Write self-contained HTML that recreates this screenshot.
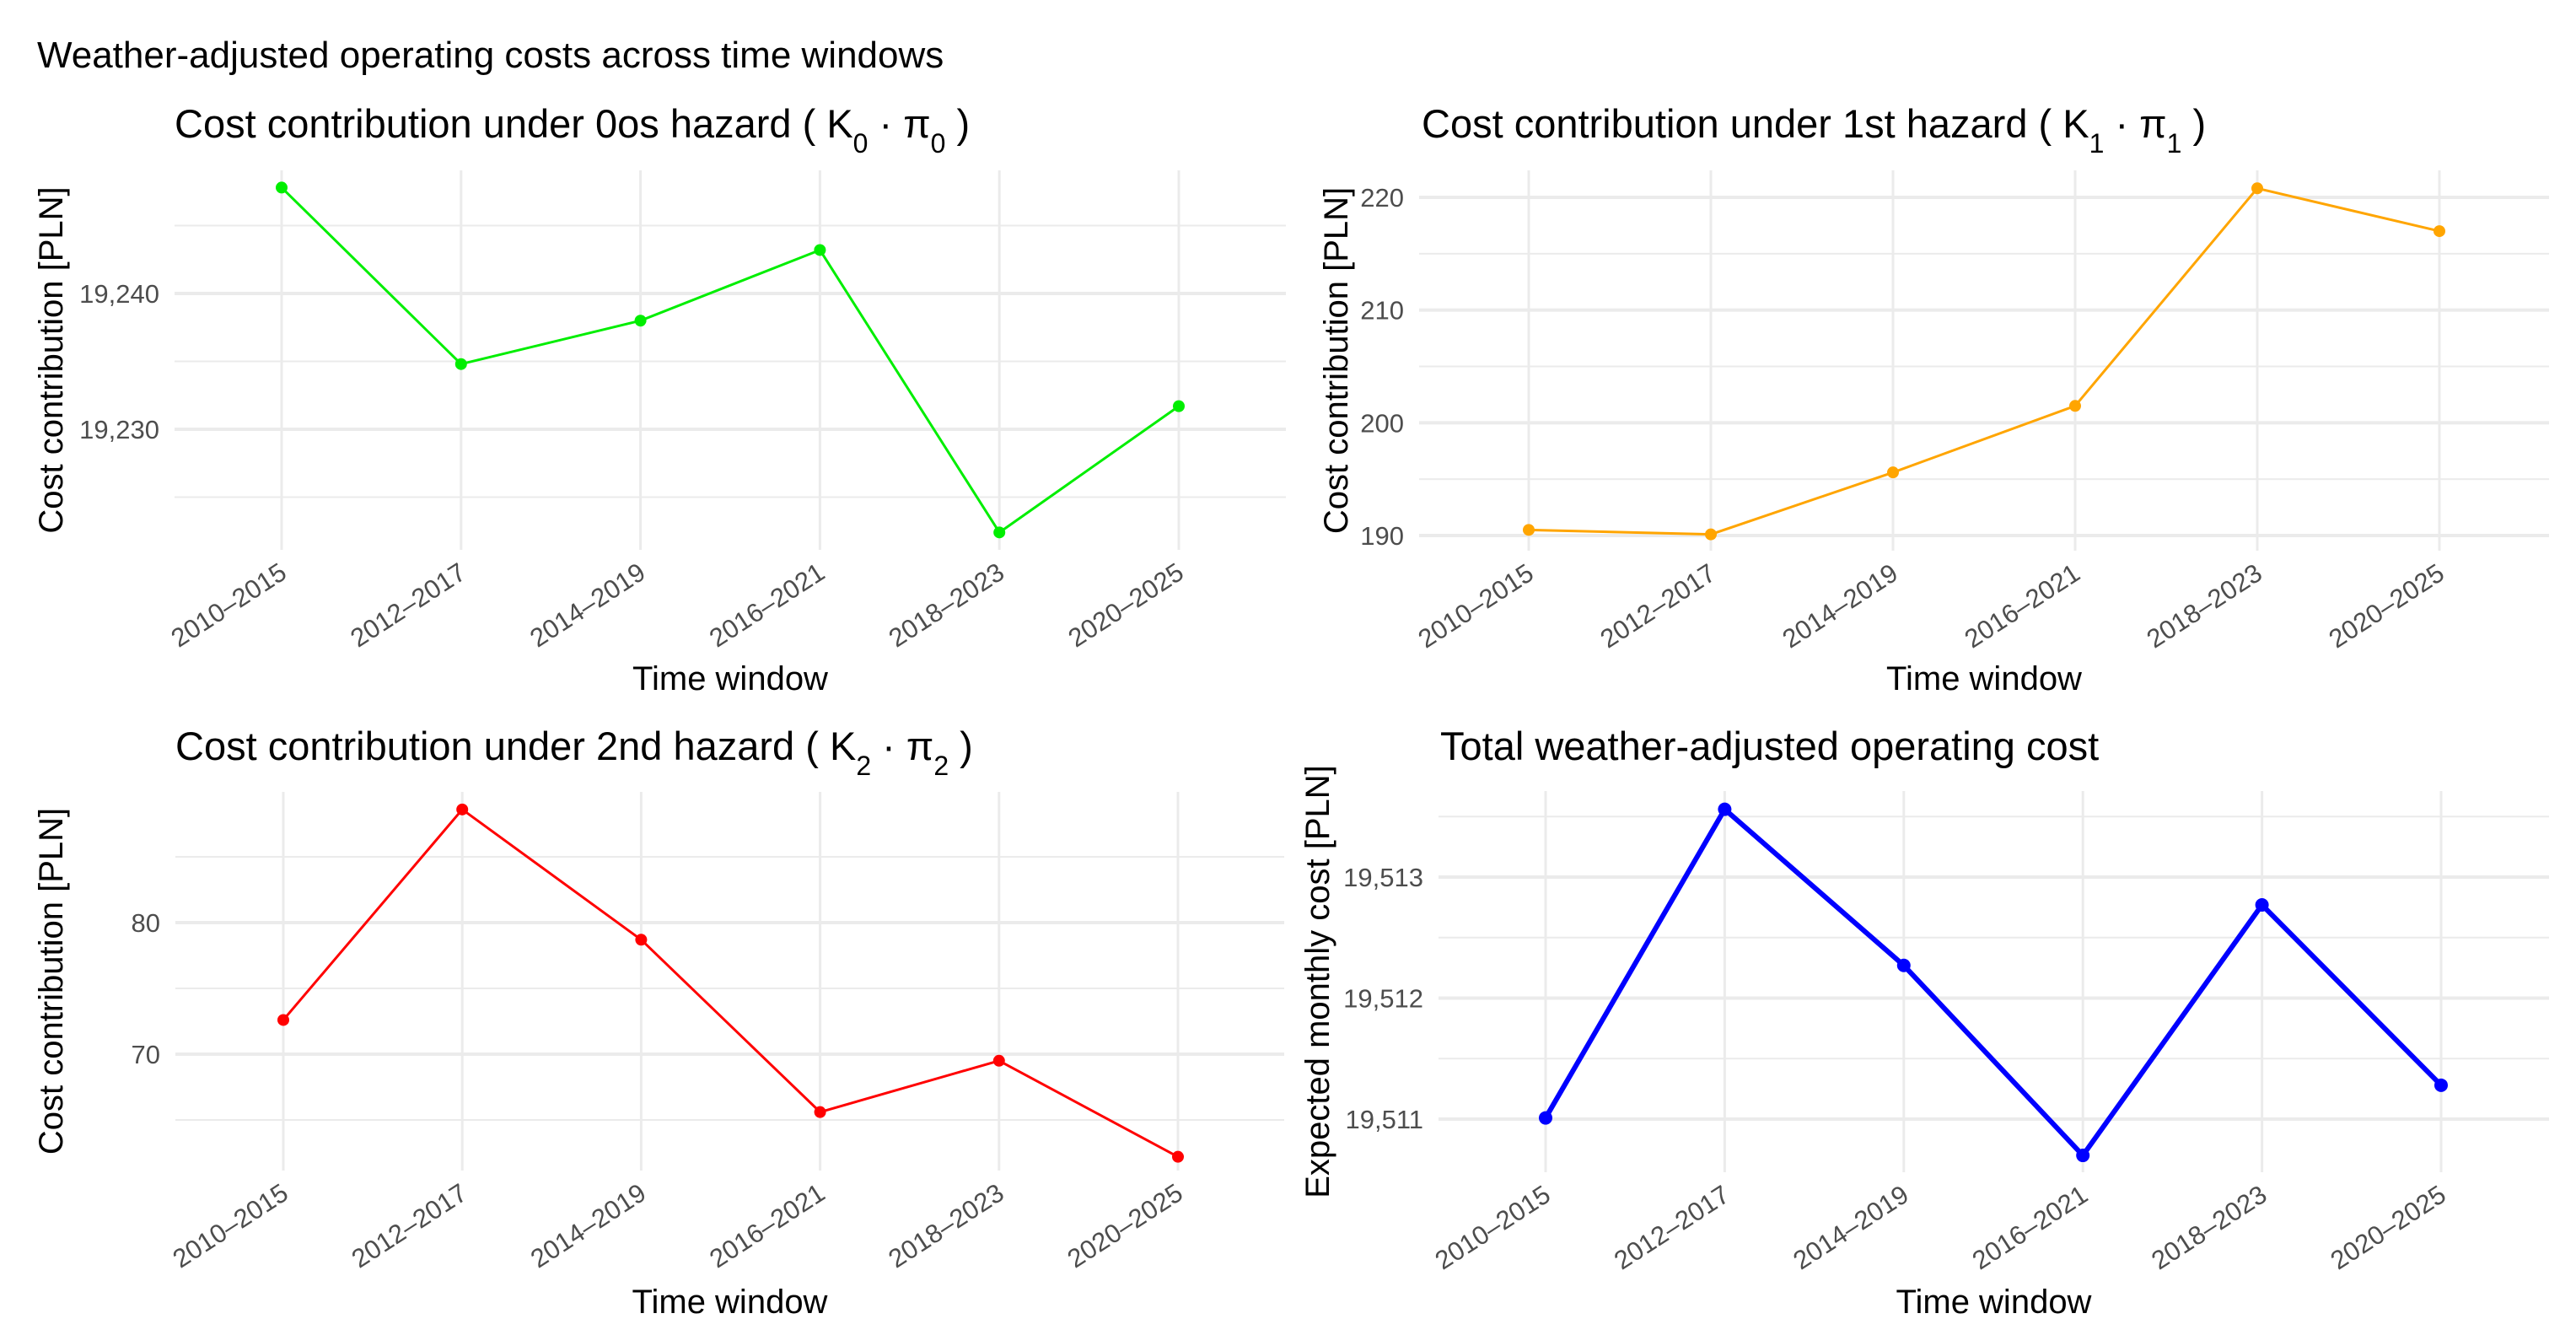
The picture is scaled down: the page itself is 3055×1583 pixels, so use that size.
<!DOCTYPE html>
<html><head><meta charset="utf-8"><style>
html,body{margin:0;padding:0;background:#fff;}
svg{display:block;font-family:"Liberation Sans",Arial,sans-serif;}
</style></head><body>
<svg id="chart" width="3055" height="1583" viewBox="0 0 3055 1583" xmlns="http://www.w3.org/2000/svg">
<rect width="3055" height="1583" fill="#fff"/>
<text x="44" y="80" font-size="44" fill="#000">Weather-adjusted operating costs across time windows</text>
</svg>
<script>
const categories = ["2010–2015","2012–2017","2014–2019","2016–2021","2018–2023","2020–2025"];
const hazard0Values = [19247.8,19234.8,19238.0,19243.2,19222.4,19231.7];
const hazard1Values = [190.5,190.1,195.6,201.5,220.8,217.0];
const hazard2Values = [72.6,88.6,78.7,65.6,69.5,62.2];
const totalValues = [19511.01,19513.56,19512.27,19510.70,19512.77,19511.28];
const hazard0Ticks = [19230,19240];
const hazard0Minor = [19225,19235,19245];
const hazard1Ticks = [190,200,210,220];
const hazard1Minor = [195,205,215];
const hazard2Ticks = [70,80];
const hazard2Minor = [65,75,85];
const totalTicks = [19511,19512,19513];
const totalMinor = [19511.5,19512.5,19513.5];

const NS = "http://www.w3.org/2000/svg";
const svg = document.getElementById("chart");
function mk(tag, attrs, parent){
  const e = document.createElementNS(NS, tag);
  for (const k in attrs) e.setAttribute(k, attrs[k]);
  (parent||svg).appendChild(e);
  return e;
}
function fmt(v){ return v.toLocaleString("en-US"); }

function panel(cfg){
  const g = mk("g", {});
  
  
  const L=cfg.left, R=cfg.right, T=cfg.top, B=cfg.bottom;
  const n = cfg.cats.length;
  const xs = i => cfg.x0 + i*(cfg.x1-cfg.x0)/(n-1);
  const ys = v => cfg.yA + (v-cfg.vA)*(cfg.yB-cfg.yA)/(cfg.vB-cfg.vA);
  cfg.minor.forEach(v=>{
    const l = mk("line",{x1:L,x2:R,y1:ys(v),y2:ys(v),stroke:"#ebebeb","stroke-width":2},g);
    
    
  });
  cfg.ticks.forEach(v=>{
    const l = mk("line",{x1:L,x2:R,y1:ys(v),y2:ys(v),stroke:"#ebebeb","stroke-width":4},g);
    
    
    const t = mk("text",{x:L-18,y:ys(v)+11,"text-anchor":"end","font-size":31,fill:"#4d4d4d"},g);
    t.textContent = fmt(v);
    
    
  });
  cfg.cats.forEach((c,i)=>{
    const l = mk("line",{x1:xs(i),x2:xs(i),y1:T,y2:B,stroke:"#ebebeb","stroke-width":3},g);
    
    
    const tx = xs(i)+8, ty = B+32;
    const t = mk("text",{x:tx,y:ty,"text-anchor":"end","font-size":31,fill:"#4d4d4d",transform:`rotate(-33 ${tx} ${ty})`},g);
    t.textContent = c;
    
    
  });
  const pts = cfg.vals.map((v,i)=>`${xs(i)},${ys(v)}`).join(" ");
  const pl = mk("polyline",{points:pts,fill:"none",stroke:cfg.color,"stroke-width":cfg.lw,"stroke-linejoin":"round"},g);
  
  
  cfg.vals.forEach((v,i)=>{
    const c = mk("circle",{cx:xs(i),cy:ys(v),r:cfg.r,fill:cfg.color},g);
    
    
  });
  const tt = mk("text",{x:cfg.titleX,y:cfg.titleY,"font-size":47,fill:"#000"},g);
  tt.innerHTML = cfg.title;
  
  
  const xt = mk("text",{x:(L+R)/2,y:cfg.xTitleY,"text-anchor":"middle","font-size":40,fill:"#000"},g);
  xt.textContent = "Time window";
  
  
  const yc = (T+B)/2;
  const yt = mk("text",{x:cfg.yTitleX,y:yc,"text-anchor":"middle","font-size":40,fill:"#000",transform:`rotate(-90 ${cfg.yTitleX} ${yc})`},g);
  yt.textContent = cfg.yTitle;
  
  
}
function sub(s){ return `<tspan baseline-shift="sub" font-size="32">${s}</tspan>`; }

panel({name:"panel-hazard-0",left:207,right:1525,top:202,bottom:652,x0:334,x1:1398,
  vA:19240,yA:348,vB:19230,yB:509,ticks:hazard0Ticks,minor:hazard0Minor,cats:categories,vals:hazard0Values,
  color:"#00ee00",lw:3,r:7,titleX:207,titleY:163,xTitleY:818,yTitleX:74,yTitle:"Cost contribution [PLN]",
  title:`Cost contribution under 0os hazard ( K${sub("0")}<tspan> · π</tspan>${sub("0")}<tspan> )</tspan>`});
panel({name:"panel-hazard-1",left:1683,right:3023,top:202,bottom:653,x0:1813,x1:2893,
  vA:220,yA:234,vB:190,yB:635,ticks:hazard1Ticks,minor:hazard1Minor,cats:categories,vals:hazard1Values,
  color:"#ffa500",lw:3,r:7,titleX:1686,titleY:163,xTitleY:818,yTitleX:1598,yTitle:"Cost contribution [PLN]",
  title:`Cost contribution under 1st hazard ( K${sub("1")}<tspan> · π</tspan>${sub("1")}<tspan> )</tspan>`});
panel({name:"panel-hazard-2",left:208,right:1523,top:939,bottom:1388,x0:336,x1:1397,
  vA:80,yA:1094,vB:70,yB:1250,ticks:hazard2Ticks,minor:hazard2Minor,cats:categories,vals:hazard2Values,
  color:"#ff0000",lw:3,r:7,titleX:208,titleY:901,xTitleY:1557,yTitleX:74,yTitle:"Cost contribution [PLN]",
  title:`Cost contribution under 2nd hazard ( K${sub("2")}<tspan> · π</tspan>${sub("2")}<tspan> )</tspan>`});
panel({name:"panel-total",left:1706,right:3023,top:938,bottom:1390,x0:1833,x1:2895,
  vA:19513,yA:1040,vB:19511,yB:1327,ticks:totalTicks,minor:totalMinor,cats:categories,vals:totalValues,
  color:"#0000ff",lw:6,r:8,titleX:1708,titleY:901,xTitleY:1557,yTitleX:1576,yTitle:"Expected monthly cost [PLN]",
  title:`Total weather-adjusted operating cost`});
</script>
</body></html>
